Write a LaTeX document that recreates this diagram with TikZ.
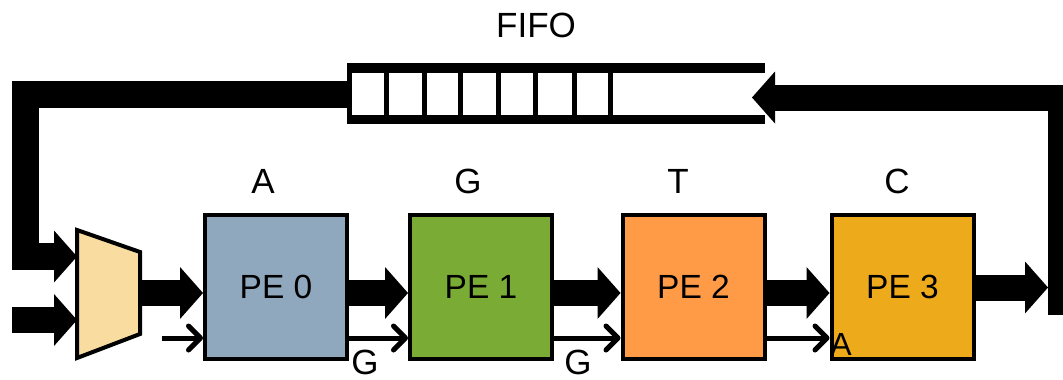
\documentclass[tikz,border=0pt]{standalone}
\usepackage{fontspec}
\setmainfont{Liberation Sans}
\usetikzlibrary{arrows.meta}
\definecolor{pezero}{HTML}{8FA8BD}
\definecolor{peone}{HTML}{7AAC35}
\definecolor{petwo}{HTML}{FF9B47}
\definecolor{pethree}{HTML}{EDAA1A}
\definecolor{muxfill}{HTML}{F9DDA0}
\begin{document}
\begin{tikzpicture}[x=1pt,y=-1pt,
  bighead/.tip={Triangle[length=23pt,width=52pt,line width=0pt]},
  bus/.style={line width=26pt, -bighead},
  loopbus/.style={line width=27pt, line join=miter, -bighead},
  wire/.style={line width=5pt, -{Straight Barb[length=12pt,width=24pt,line width=5pt,line cap=round,line join=round]}},
  pebox/.style={draw, line width=4pt, minimum width=142pt, minimum height=144pt,
    inner sep=0pt, font=\fontsize{33.5}{36}\selectfont},
  lbl/.style={font=\fontsize{35}{40}\selectfont, anchor=base, inner sep=0pt},
  fifoline/.style={line cap=butt}]
\useasboundingbox (0,0) rectangle (1063,380);
\clip (0,0) rectangle (1063,380);

% processing elements
\node[pebox, fill=pezero]  (pe0) at (276,287)   {PE 0};
\node[pebox, fill=peone]   (pe1) at (481,287)   {PE 1};
\node[pebox, fill=petwo]   (pe2) at (693.5,287) {PE 2};
\node[pebox, fill=pethree] (pe3) at (902.5,287) {PE 3};

% characters held by each element
\node[lbl] (la) at (263,193) {A};
\node[lbl] (lg) at (468,193) {G};
\node[lbl] (lt) at (678,193) {T};
\node[lbl] (lc) at (897,193) {C};

% multiplexer
\draw[line width=4pt, line join=miter, fill=muxfill] (77,230) -- (140,252) -- (140,334) -- (77,358) -- cycle;
\coordinate (muxinA) at (77,256.5);
\coordinate (muxinB) at (77,320);
\coordinate (muxout) at (140,293);

% FIFO buffer
\node[lbl] (fifolabel) at (536,37) {FIFO};
\draw[fifoline, line width=10pt] (347,68) -- (765,68);
\draw[fifoline, line width=9pt] (347,119.5) -- (765,119.5);
\draw[fifoline, line width=5pt] (349.5,63) -- (349.5,124);
\foreach \cx in {386,424.5,460.5,498.5,535.5,574.5,610.5}
  \draw[fifoline, line width=5pt] (\cx,70) -- (\cx,117);
\coordinate (fifoout) at (347,94.5);
\coordinate (fifoin) at (752,97.5);

% external input and feedback path
\coordinate (extin) at (12,320);
\coordinate (fbcornerA) at (25.5,94.5);
\coordinate (fbcornerB) at (25.5,256.5);
\draw[bus] (extin) -- (muxinB);
\draw[loopbus] (fifoout) -- (fbcornerA) -- (fbcornerB) -- (muxinA);

% data path through the array
\draw[bus] (muxout) -- ([yshift=-6pt]pe0.west);
\draw[bus] ([yshift=-6pt]pe0.east) -- ([yshift=-6pt]pe1.west);
\draw[bus] ([yshift=-6pt]pe1.east) -- ([yshift=-6pt]pe2.west);
\draw[bus] ([yshift=-6pt]pe2.east) -- ([yshift=-6pt]pe3.west);

% output back into the FIFO
\coordinate (retend) at (1048,287.5);
\coordinate (retbottom) at (1060.5,315);
\coordinate (rettop) at (1060.5,97.5);
\draw[line width=25pt, line cap=butt] (retbottom) -- (rettop);
\draw[bus] ([yshift=-0.5pt]pe3.east) -- (retend);
\draw[bus, line join=miter] (1060.5,110) -- (rettop) -- (fifoin);

% control wires
\coordinate (wirein) at (162,338);
\draw[wire] (wirein) -- ([yshift=-51pt]pe0.west);
\draw[wire] ([yshift=-51pt]pe0.east) -- ([yshift=-51pt]pe1.west);
\draw[wire] ([yshift=-51pt]pe1.east) -- ([yshift=-51pt]pe2.west);
\draw[wire] ([yshift=-51pt]pe2.east) -- ([yshift=-51pt]pe3.west);

% characters on the wires
\node[lbl] (wg1) at (365,374) {G};
\node[lbl] (wg2) at (578,374) {G};
\node[lbl, font=\fontsize{32}{36}\selectfont] (wa) at (841,355) {A};
\end{tikzpicture}
\end{document}
